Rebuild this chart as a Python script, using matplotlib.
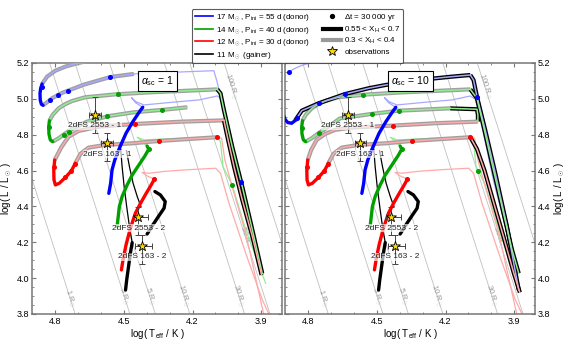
import numpy as np
import matplotlib
matplotlib.use("Agg")
import matplotlib.pyplot as plt
from matplotlib.lines import Line2D

plt.rcParams['font.family'] = ['Liberation Sans', 'DejaVu Sans']
plt.rcParams['mathtext.fontset'] = 'custom'
plt.rcParams['mathtext.rm'] = 'Liberation Sans'
plt.rcParams['mathtext.it'] = 'Liberation Sans:italic'
plt.rcParams['mathtext.bf'] = 'Liberation Sans:bold'

# ---------------- data (log Teff, log L) ----------------
PANEL_ALPHA = ["1", "10"]

BLUE_MS_T = [4.565, 4.557, 4.551, 4.539, 4.519, 4.490, 4.460, 4.434, 4.417]
BLUE_MS_L = [4.473, 4.529, 4.603, 4.659, 4.724, 4.808, 4.873, 4.923, 4.953]
BLUE_THIN_T = [4.417, 4.449, 4.466, 4.446, 4.412, 4.289, 4.172, 4.092, 4.070, 4.041, 3.990, 3.939, 3.896]
BLUE_THIN_L = [4.953, 4.979, 5.007, 4.984, 4.966, 4.981, 4.994, 5.016, 4.997, 4.845, 4.538, 4.287, 4.027]

GREEN_MS_T = [4.529, 4.524, 4.519, 4.507, 4.485, 4.463, 4.434, 4.408, 4.391, 4.398]
GREEN_MS_L = [4.287, 4.343, 4.399, 4.455, 4.520, 4.575, 4.631, 4.681, 4.719, 4.737]
GREEN_THIN_T = [4.398, 4.423, 4.441, 4.412, 4.289, 4.172, 4.092, 4.078, 4.067, 4.027, 3.968, 3.881]
GREEN_THIN_L = [4.737, 4.767, 4.786, 4.771, 4.778, 4.784, 4.786, 4.761, 4.622, 4.520, 4.269, 3.971]

RED_MS_T = [4.510, 4.503, 4.490, 4.471, 4.449, 4.427, 4.402, 4.380, 4.367]
RED_MS_L = [4.046, 4.102, 4.185, 4.278, 4.362, 4.417, 4.473, 4.520, 4.551]
RED_THIN_T = [4.367, 4.398, 4.420, 4.391, 4.318, 4.216, 4.099, 4.078, 4.041, 3.968, 3.896, 3.863]
RED_THIN_L = [4.553, 4.570, 4.590, 4.585, 4.596, 4.605, 4.613, 4.585, 4.418, 4.139, 3.880, 3.790]
RED_THIN2_T = [4.092, 4.073, 4.059, 4.027, 3.968, 3.888]
RED_THIN2_L = [4.786, 4.780, 4.659, 4.510, 4.250, 3.790]

GAIN_MS_T = [4.492, 4.487, 4.479, 4.471, 4.463]
GAIN_MS_L = [3.934, 3.990, 4.064, 4.139, 4.198]
GAIN_UP_T = [4.463, 4.475, 4.487, 4.498, 4.507, 4.513]
GAIN_UP_L = [4.198, 4.287, 4.399, 4.510, 4.622, 4.719]
GAIN_DOWN_T = [4.488, 4.475, 4.459, 4.441, 4.425]
GAIN_DOWN_L = [4.711, 4.622, 4.529, 4.455, 4.399]
GAIN_S_T = [4.364, 4.340, 4.319, 4.324, 4.347, 4.373, 4.398]
GAIN_S_L = [4.483, 4.464, 4.427, 4.390, 4.347, 4.297, 4.246]

GREEN_B_T = [4.824, 4.810, 4.784, 4.754, 4.725, 4.667, 4.536, 4.391, 4.245, 4.092]
GREEN_B_L = [4.878, 4.910, 4.947, 4.971, 4.988, 5.009, 5.025, 5.036, 5.044, 5.053]
GREEN_HOT_T = [4.824, 4.827, 4.826, 4.820, 4.810]
GREEN_HOT_L = [4.878, 4.845, 4.804, 4.771, 4.761]
RED_HOT_T = [4.801, 4.805, 4.804, 4.798, 4.781, 4.754, 4.728, 4.711]
RED_HOT_L = [4.659, 4.603, 4.548, 4.520, 4.529, 4.562, 4.599, 4.641]
RED_E_T = [4.711, 4.689, 4.653, 4.580, 4.463, 4.347, 4.216, 4.092]
RED_E_L = [4.641, 4.693, 4.728, 4.743, 4.752, 4.765, 4.776, 4.786]

# alpha_sc = 1 panel
L_BLUE_A1_T = [4.640, 4.660, 4.704, 4.754, 4.798, 4.834, 4.856]
L_BLUE_A1_L = [5.235, 5.211, 5.198, 5.180, 5.157, 5.124, 5.083]
L_BLUE_HOT_T = [4.856, 4.862, 4.865, 4.864, 4.859, 4.852]
L_BLUE_HOT_L = [5.083, 5.059, 5.031, 4.994, 4.970, 4.964]
L_BLUE_A2_T = [4.852, 4.834, 4.813, 4.769, 4.674, 4.558, 4.456]
L_BLUE_A2_L = [4.964, 4.981, 5.003, 5.033, 5.079, 5.122, 5.139]
L_BLUE_TOP_T = [4.456, 4.420, 4.289, 4.172, 4.107, 4.095, 4.082, 4.067]
L_BLUE_TOP_L = [5.139, 5.142, 5.148, 5.154, 5.157, 5.105, 5.040, 4.984]
L_GREEN_C_T = [4.810, 4.784, 4.754, 4.718, 4.660, 4.565, 4.456, 4.318, 4.223]
L_GREEN_C_L = [4.761, 4.780, 4.808, 4.836, 4.873, 4.904, 4.925, 4.940, 4.953]
L_RED_D_T = [4.063, 4.245, 4.449, 4.609, 4.696, 4.740, 4.772, 4.801]
L_RED_D_L = [4.880, 4.873, 4.860, 4.845, 4.821, 4.789, 4.730, 4.659]
L_BUNDLE_G_T = [4.092, 4.078, 4.063, 4.027, 3.983, 3.939, 3.896]
L_BUNDLE_G_L = [5.053, 5.031, 4.938, 4.734, 4.510, 4.269, 4.027]
L_BUNDLE_R_T = [4.063, 4.048, 4.019, 3.983, 3.939, 3.899]
L_BUNDLE_R_L = [4.880, 4.789, 4.622, 4.436, 4.232, 4.018]
L_BLUE_DOTS_T = [4.858, 4.821, 4.785, 4.741, 4.559, 3.990]
L_BLUE_DOTS_L = [5.068, 4.995, 5.022, 5.045, 5.120, 4.538]
L_GREEN_DOTS_T = [4.523, 4.574, 4.334, 4.762, 4.740, 4.826, 4.027, 4.391]
L_GREEN_DOTS_L = [5.026, 4.902, 4.938, 4.800, 4.817, 4.845, 4.520, 4.719]
L_RED_DOTS_T = [4.804, 4.757, 4.728, 4.714, 4.452, 4.347, 4.092, 4.367]
L_RED_DOTS_L = [4.620, 4.565, 4.599, 4.635, 4.860, 4.765, 4.786, 4.553]

# alpha_sc = 10 panel
R_BLUE_A1_T = [4.878, 4.856, 4.827, 4.791, 4.754, 4.720]
R_BLUE_A1_L = [5.155, 5.170, 5.187, 5.200, 5.211, 5.225]
R_BLUE_HOT_T = [4.915, 4.900, 4.888, 4.871, 4.856]
R_BLUE_HOT_L = [4.938, 4.886, 4.868, 4.864, 4.879]
R_BLUE_A_T = [4.856, 4.827, 4.754, 4.638, 4.536, 4.463, 4.318, 4.172, 4.092]
R_BLUE_A_L = [4.879, 4.934, 4.975, 5.027, 5.059, 5.077, 5.105, 5.124, 5.133]
R_BLUE_BUNDLE_T = [4.092, 4.078, 4.063, 4.027, 3.983, 3.932, 3.881]
R_BLUE_BUNDLE_L = [5.133, 5.105, 5.012, 4.826, 4.585, 4.287, 3.934]
R_GREEN_C_T = [4.810, 4.784, 4.754, 4.711, 4.660, 4.522, 4.405, 4.180]
R_GREEN_C_L = [4.761, 4.780, 4.808, 4.845, 4.891, 4.916, 4.934, 4.947]
R_GREEN_LINK_T = [4.180, 4.063, 4.059, 4.059]
R_GREEN_LINK_L = [4.947, 4.942, 4.910, 4.873]
R_RED_D_T = [4.059, 4.245, 4.427, 4.609, 4.682, 4.725, 4.762, 4.786, 4.801]
R_RED_D_L = [4.873, 4.864, 4.851, 4.840, 4.827, 4.804, 4.771, 4.715, 4.659]
R_GREEN_BUNDLE_T = [4.092, 4.063, 4.034, 3.998, 3.954, 3.910, 3.881]
R_GREEN_BUNDLE_L = [5.053, 5.003, 4.845, 4.641, 4.399, 4.157, 4.027]
R_RED_BUNDLE_T = [4.092, 4.063, 4.030, 3.990, 3.947, 3.903, 3.876]
R_RED_BUNDLE_L = [4.786, 4.720, 4.600, 4.420, 4.230, 4.030, 3.920]
R_BLUE_DOTS_T = [4.883, 4.849, 4.754, 4.638, 4.063]
R_BLUE_DOTS_L = [5.152, 4.892, 4.975, 5.027, 5.012]
R_GREEN_DOTS_T = [4.522, 4.405, 4.558, 4.826, 4.754, 4.060, 4.391]
R_GREEN_DOTS_L = [4.916, 4.934, 5.022, 4.840, 4.808, 4.600, 4.719]
R_RED_DOTS_T = [4.804, 4.757, 4.728, 4.714, 4.427, 4.347, 4.092, 4.367]
R_RED_DOTS_L = [4.620, 4.565, 4.599, 4.635, 4.851, 4.765, 4.786, 4.553]

# observations
OBS_NAMES = ["2dFS 2553 - 1", "2dFS 163 - 1", "2dFS 2553 - 2", "2dFS 163 - 2"]
OBS_T = [4.626, 4.572, 4.437, 4.420]
OBS_L = [4.910, 4.752, 4.339, 4.180]
OBS_T_HOT = [0.025, 0.025, 0.022, 0.029]
OBS_T_COOL = [0.025, 0.025, 0.043, 0.043]
OBS_L_UP = [0.10, 0.06, 0.06, 0.06]
OBS_L_DN = [0.10, 0.10, 0.10, 0.10]

RADII = [1, 3, 5, 10, 30, 50, 100]
RADIUS_LABEL_L = [3.89, 3.90, 3.90, 3.905, 3.905, 4.23, 5.07]
LOG_TSUN = 3.7617

# ---------------- colours ----------------
C_BLUE, C_GREEN, C_RED, C_BLACK = '#0000ff', '#00a000', '#ff0000', '#000000'
LC_BLUE, LC_GREEN, LC_RED = '#a8a8ff', '#90ee90', '#ffaaaa'
GRAY_OUT, BLACK_OUT = '#a0a0a0', '#000000'

fig = plt.figure(figsize=(5.68, 3.6), dpi=100)
axL = fig.add_axes([0.0563, 0.1278, 0.4401, 0.6972])
axR = fig.add_axes([0.5018, 0.1278, 0.4401, 0.6972])


def thick(ax, T, L, c, lw=2.4):
    ax.plot(T, L, color=c, lw=lw, solid_capstyle='round', solid_joinstyle='round', zorder=5)


def thin(ax, T, L, c):
    ax.plot(T, L, color=c, lw=0.9, zorder=2)


def outlined(ax, T, L, c, oc):
    ax.plot(T, L, color=oc, lw=3.0, zorder=3, solid_capstyle='butt')
    ax.plot(T, L, color=c, lw=1.1, zorder=3.5)


def dots(ax, T, L, c):
    ax.plot(T, L, ls='none', marker='o', ms=2.6, color=c, zorder=6)


for k, ax in enumerate([axL, axR]):
    ax.set_xlim(4.9, 3.81)
    ax.set_ylim(3.8, 5.2)
    # radius lines
    Tg = np.linspace(3.7, 5.0, 50)
    for R, lab_L in zip(RADII, RADIUS_LABEL_L):
        ax.plot(Tg, 2 * np.log10(R) + 4 * (Tg - LOG_TSUN), color='#c0c0c0', lw=0.6, zorder=1)
        lab_T = LOG_TSUN + (lab_L - 2 * np.log10(R)) / 4
        p1 = ax.transData.transform((lab_T, lab_L))
        p2 = ax.transData.transform((lab_T - 0.01, lab_L - 0.04))
        ang = np.degrees(np.arctan2(p2[1] - p1[1], p2[0] - p1[0]))
        ax.text(lab_T, lab_L, f"{R} R$_\\odot$", rotation=ang, rotation_mode='anchor',
                ha='center', va='center', fontsize=5.5, color='#999999', zorder=1.5)

    # shared tracks
    thin(ax, BLUE_THIN_T, BLUE_THIN_L, LC_BLUE)
    thin(ax, GREEN_THIN_T, GREEN_THIN_L, LC_GREEN)
    thin(ax, RED_THIN_T, RED_THIN_L, LC_RED)
    thin(ax, RED_THIN2_T, RED_THIN2_L, LC_RED)

    outlined(ax, GREEN_B_T, GREEN_B_L, LC_GREEN, GRAY_OUT)
    outlined(ax, RED_E_T, RED_E_L, LC_RED, GRAY_OUT)
    thick(ax, GREEN_HOT_T, GREEN_HOT_L, C_GREEN)
    thick(ax, RED_HOT_T, RED_HOT_L, C_RED)

    if k == 0:
        outlined(ax, L_BLUE_A1_T, L_BLUE_A1_L, LC_BLUE, GRAY_OUT)
        thick(ax, L_BLUE_HOT_T, L_BLUE_HOT_L, C_BLUE)
        outlined(ax, L_BLUE_A2_T, L_BLUE_A2_L, LC_BLUE, GRAY_OUT)
        thin(ax, L_BLUE_TOP_T, L_BLUE_TOP_L, LC_BLUE)
        outlined(ax, L_GREEN_C_T, L_GREEN_C_L, LC_GREEN, GRAY_OUT)
        outlined(ax, L_RED_D_T, L_RED_D_L, LC_RED, GRAY_OUT)
        outlined(ax, L_BUNDLE_G_T, L_BUNDLE_G_L, LC_GREEN, BLACK_OUT)
        outlined(ax, L_BUNDLE_R_T, L_BUNDLE_R_L, LC_RED, BLACK_OUT)
        dots(ax, L_BLUE_DOTS_T, L_BLUE_DOTS_L, C_BLUE)
        dots(ax, L_GREEN_DOTS_T, L_GREEN_DOTS_L, C_GREEN)
        dots(ax, L_RED_DOTS_T, L_RED_DOTS_L, C_RED)
    else:
        thin(ax, R_BLUE_A1_T, R_BLUE_A1_L, LC_BLUE)
        thick(ax, R_BLUE_HOT_T, R_BLUE_HOT_L, C_BLUE)
        outlined(ax, R_BLUE_A_T, R_BLUE_A_L, LC_BLUE, BLACK_OUT)
        outlined(ax, R_BLUE_BUNDLE_T, R_BLUE_BUNDLE_L, LC_BLUE, BLACK_OUT)
        outlined(ax, R_GREEN_C_T, R_GREEN_C_L, LC_GREEN, GRAY_OUT)
        outlined(ax, R_GREEN_LINK_T, R_GREEN_LINK_L, LC_GREEN, BLACK_OUT)
        outlined(ax, R_RED_D_T, R_RED_D_L, LC_RED, GRAY_OUT)
        outlined(ax, R_GREEN_BUNDLE_T, R_GREEN_BUNDLE_L, LC_GREEN, BLACK_OUT)
        outlined(ax, R_RED_BUNDLE_T, R_RED_BUNDLE_L, LC_RED, BLACK_OUT)
        dots(ax, R_BLUE_DOTS_T, R_BLUE_DOTS_L, C_BLUE)
        dots(ax, R_GREEN_DOTS_T, R_GREEN_DOTS_L, C_GREEN)
        dots(ax, R_RED_DOTS_T, R_RED_DOTS_L, C_RED)

    thick(ax, BLUE_MS_T, BLUE_MS_L, C_BLUE)
    thick(ax, GREEN_MS_T, GREEN_MS_L, C_GREEN)
    thick(ax, RED_MS_T, RED_MS_L, C_RED)
    ax.plot(GAIN_UP_T, GAIN_UP_L, color=C_BLACK, lw=0.9, zorder=4)
    ax.plot(GAIN_DOWN_T, GAIN_DOWN_L, color=C_BLACK, lw=0.9, zorder=4)
    thick(ax, GAIN_MS_T, GAIN_MS_L, C_BLACK)
    thick(ax, GAIN_S_T, GAIN_S_L, C_BLACK)

    # observations
    ax.errorbar(OBS_T, OBS_L, xerr=[OBS_T_COOL, OBS_T_HOT], yerr=[OBS_L_DN, OBS_L_UP],
                fmt='none', ecolor='#444444', elinewidth=0.7, capsize=2, capthick=0.7, zorder=7)
    ax.scatter(OBS_T, OBS_L, marker='*', s=55, facecolor='#ffd700', edgecolor='k',
               linewidth=0.6, zorder=8)
    for name, t, l in zip(OBS_NAMES, OBS_T, OBS_L):
        ax.text(t, l - 0.06, name, ha='center', va='center', fontsize=6, color='#222222',
                zorder=9, bbox=dict(facecolor='white', alpha=0.65, edgecolor='none', pad=0.3))

    ax.text(4.354, 5.097, r"$\alpha_{\rm sc}$ = " + PANEL_ALPHA[k], ha='center', va='center',
            fontsize=7.5, zorder=10,
            bbox=dict(boxstyle='square,pad=0.3', facecolor='white', edgecolor='k', lw=0.8))

    # axes styling
    ax.set_xticks([4.8, 4.5, 4.2, 3.9])
    ax.set_xticks(np.arange(3.9, 4.91, 0.1), minor=True)
    ax.set_yticks(np.arange(3.8, 5.21, 0.2))
    ax.set_yticks(np.arange(3.8, 5.21, 0.05), minor=True)
    ax.yaxis.set_major_formatter(matplotlib.ticker.FormatStrFormatter('%.1f'))
    ax.xaxis.set_major_formatter(matplotlib.ticker.FormatStrFormatter('%.1f'))
    ax.tick_params(which='both', direction='in', top=True, right=True, labelsize=6.5,
                   color='#777777', pad=2)
    ax.tick_params(which='major', length=3)
    ax.tick_params(which='minor', length=1.5)
    for s in ax.spines.values():
        s.set_color('#777777')
        s.set_linewidth(1.1)
    ax.set_xlabel(r"log( T$_{\rm eff}$ / K )", fontsize=7, labelpad=1)

axL.set_ylabel(r"log( L / L$_\odot$ )", fontsize=7, labelpad=2)
axR.yaxis.set_label_position('right')
axR.yaxis.tick_right()
axR.tick_params(which='both', left=True, right=True, labelleft=False, labelright=True)
axR.set_ylabel(r"log( L / L$_\odot$ )", fontsize=7, labelpad=2)

handles = [
    Line2D([], [], color=C_BLUE, lw=1.2),
    Line2D([], [], color=C_GREEN, lw=1.2),
    Line2D([], [], color=C_RED, lw=1.2),
    Line2D([], [], color=C_BLACK, lw=1.2),
    Line2D([], [], ls='none', marker='o', ms=2.8, color='k'),
    Line2D([], [], color='k', lw=3),
    Line2D([], [], color='#999999', lw=3),
    Line2D([], [], ls='none', marker='*', ms=7, mfc='#ffd700', mec='k', mew=0.6),
]
labels = [
    r"17 M$_\odot$, P$_{\rm ini}$ = 55 d (donor)",
    r"14 M$_\odot$, P$_{\rm ini}$ = 40 d (donor)",
    r"12 M$_\odot$, P$_{\rm ini}$ = 30 d (donor)",
    r"11 M$_\odot$ (gainer)",
    r"$\Delta$t = 30 000 yr",
    r"0.55 < X$_{\rm H}$ < 0.7",
    r"0.3 < X$_{\rm H}$ < 0.4",
    "observations",
]
leg = fig.legend(handles, labels, ncol=2, loc='upper center', bbox_to_anchor=(0.524, 0.974),
                 fontsize=5.8, frameon=True, fancybox=True, edgecolor='#333333',
                 columnspacing=1.5, handlelength=2.3, borderpad=0.35, labelspacing=0.18,
                 handletextpad=0.4, borderaxespad=0.0)
leg.get_frame().set_linewidth(0.8)

fig.savefig("out.png", dpi=100)
